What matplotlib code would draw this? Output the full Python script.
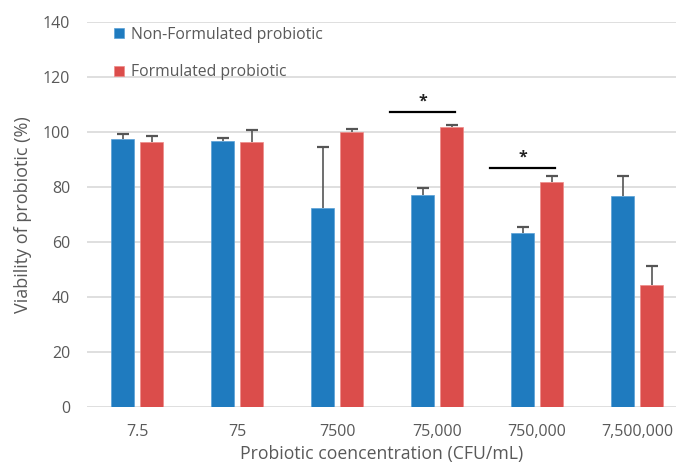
import matplotlib
matplotlib.use("Agg")
import matplotlib.pyplot as plt
import numpy as np

# ─── Data ──────────────────────────────────────────────────────────────────
concentrations = ["7.5", "75", "7500", "75,000", "750,000", "7,500,000"]
non_formulated = [97.4, 96.6, 72.5, 77.1, 63.4, 76.8]
non_formulated_err = [1.8, 1.2, 22.2, 2.6, 2.2, 7.3]
formulated = [96.3, 96.3, 100.0, 101.9, 81.8, 44.4]
formulated_err = [2.4, 4.3, 1.0, 0.8, 2.3, 6.8]

# significance brackets: (category index, bar height, label)
sig_marks = [(3, 107.2, "*"), (4, 86.8, "*")]

BLUE = "#1f7bbf"
RED = "#db4d4b"
TEXT = "#595959"
GRID = "#d9d9d9"

plt.rcParams["font.family"] = ["Open Sans", "DejaVu Sans"]

fig = plt.figure(figsize=(6.76, 4.63), dpi=100)
ax = fig.add_axes([87 / 676, (463 - 407) / 463, 1 - 87 / 676, (407 - 22) / 463])

x = np.arange(len(concentrations))
width = 0.23
offset = 0.145

ax.bar(x - offset, non_formulated, width, color=BLUE, edgecolor="#5aa0d6",
       linewidth=0.5, label="Non-Formulated probiotic", zorder=2)
ax.bar(x + offset, formulated, width, color=RED, edgecolor="#ee8a88",
       linewidth=0.5, label="Formulated probiotic", zorder=2)


def upper_errors(xs, vals, errs):
    """Whisker only above the bar, with a cap at the top."""
    vals = np.asarray(vals)
    tops = vals + np.asarray(errs)
    ax.vlines(xs, vals, tops, color="#555555", lw=1.2, zorder=3)
    ax.plot(xs, tops, ls="none", marker="_", ms=8, mew=1.6,
            color="#555555", zorder=3)


upper_errors(x - offset, non_formulated, non_formulated_err)
upper_errors(x + offset, formulated, formulated_err)

for idx, h, lab in sig_marks:
    ax.plot([idx - 0.47, idx + 0.18], [h, h], color="black", lw=1.6, zorder=3)
    ax.text(idx - 0.145, h + 0.9, lab, ha="center", va="bottom",
            fontsize=11.5, color="#222222", fontweight="bold")

ax.set_ylim(0, 140)
ax.set_xlim(-0.5, 5.5 - 11 / 100)
ax.set_yticks(np.arange(0, 141, 20))
ax.set_xticks(x)
ax.set_xticklabels(concentrations)
ax.yaxis.grid(True, color=GRID, lw=1.2, zorder=0)
ax.set_axisbelow(True)
for s in ax.spines.values():
    s.set_visible(False)
ax.tick_params(axis="both", length=0, colors=TEXT, labelsize=11.5)
ax.tick_params(axis="y", pad=12)
ax.tick_params(axis="x", pad=12)

ax.set_xlabel("Probiotic coencentration (CFU/mL)", fontsize=12.7, color=TEXT, labelpad=4)
ax.set_ylabel("Viability of probiotic (%)", fontsize=13, color=TEXT, labelpad=8)

leg = ax.legend(loc="upper left", bbox_to_anchor=(0.022, 1.025), frameon=False,
                fontsize=11.3, labelcolor=TEXT, handlelength=0.65, handleheight=0.65,
                handletextpad=0.4, labelspacing=1.4)

fig.savefig("out.png", dpi=100)
